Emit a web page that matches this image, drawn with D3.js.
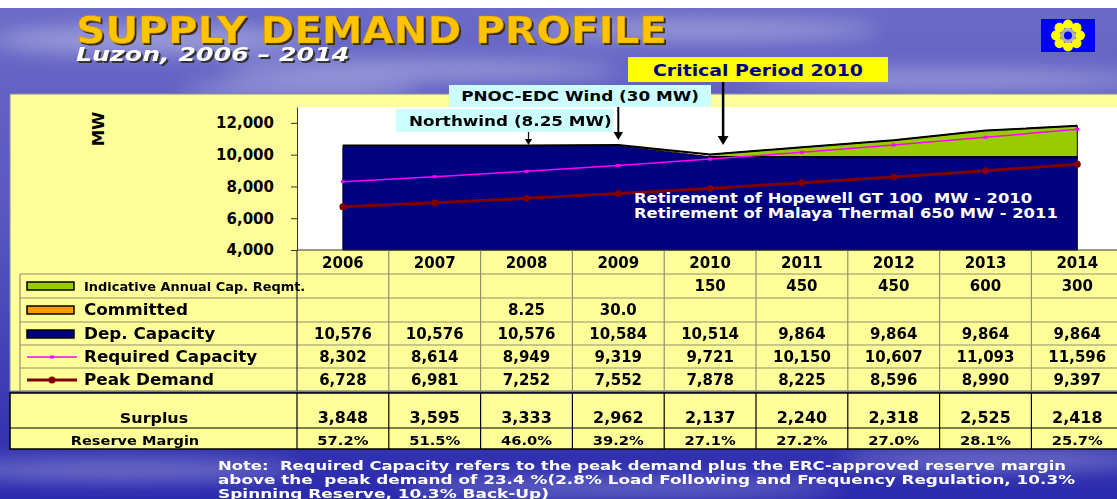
<!DOCTYPE html>
<html>
<head>
<meta charset="utf-8">
<script src="https://cdn.jsdelivr.net/npm/d3@7"></script>
<style>
  body { margin: 0; overflow: hidden; background: #fff; }
  text { font-family: "DejaVu Sans", Verdana, sans-serif; font-weight: bold; }
</style>
</head>
<body>
<svg id="chart" width="1117" height="499"></svg>
<script>
'use strict';

// Data (MW)
var years = ["2006", "2007", "2008", "2009", "2010", "2011", "2012", "2013", "2014"];
var indicative = [null, null, null, null, 150, 450, 450, 600, 300];
var committed = [null, null, 8.25, 30.0, null, null, null, null, null];
var depCapacity = [10576, 10576, 10576, 10584, 10514, 9864, 9864, 9864, 9864];
// dependable capacity as drawn in the area chart (dips to 9,864 in 2010)
var depCapacityPlotted = [10576, 10576, 10576, 10584, 9864, 9864, 9864, 9864, 9864];
var requiredCapacity = [8302, 8614, 8949, 9319, 9721, 10150, 10607, 11093, 11596];
var peakDemand = [6728, 6981, 7252, 7552, 7878, 8225, 8596, 8990, 9397];
var surplus = [3848, 3595, 3333, 2962, 2137, 2240, 2318, 2525, 2418];
var reserveMargin = [57.2, 51.5, 46.0, 39.2, 27.1, 27.2, 27.0, 28.1, 25.7];
var yTicks = [4000, 6000, 8000, 10000, 12000];

var svg = d3.select("#chart");
var defs = svg.append("defs");

// Slide background
var bg = defs.append("linearGradient").attr("id", "bg")
    .attr("x1", 0).attr("y1", 0).attr("x2", 0).attr("y2", 1);
bg.append("stop").attr("offset", "0%").attr("stop-color", "#6a6ac8");
bg.append("stop").attr("offset", "45%").attr("stop-color", "#5656bd");
bg.append("stop").attr("offset", "100%").attr("stop-color", "#2a2aae");
defs.append("filter").attr("id", "blur")
    .attr("x", "-50%").attr("y", "-50%").attr("width", "200%").attr("height", "200%")
  .append("feGaussianBlur").attr("stdDeviation", 10);

svg.append("rect").attr("x", 0).attr("y", 8).attr("width", 1117).attr("height", 491)
    .attr("fill", "url(#bg)");

var clouds = [[150, 40, 160, 14], [420, 70, 200, 10], [700, 30, 180, 10], [950, 80, 200, 10],
              [120, 470, 180, 10], [620, 488, 220, 8], [1000, 460, 160, 9], [300, 90, 120, 8]];
svg.append("g").attr("filter", "url(#blur)")
  .selectAll("ellipse").data(clouds).enter().append("ellipse")
    .attr("cx", function(d) { return d[0]; })
    .attr("cy", function(d) { return d[1]; })
    .attr("rx", function(d) { return d[2]; })
    .attr("ry", function(d) { return d[3]; })
    .attr("fill", "#ffffff")
    .attr("opacity", 0.35);

// text helper, with a horizontal stretch like the slide
function label(g, x, y, str, size, sx, anchor, fill) {
    return g.append("text")
        .attr("transform", "translate(" + x + "," + y + ") scale(" + sx + ",1)")
        .attr("text-anchor", anchor || "start")
        .attr("font-size", size)
        .attr("fill", fill || "#000")
        .style("white-space", "pre")
        .text(str);
}

// Title
svg.append("text").attr("x", 78).attr("y", 45).attr("font-size", 37)
    .attr("textLength", 591).attr("lengthAdjust", "spacingAndGlyphs")
    .attr("fill", "#3a2a10").text("SUPPLY DEMAND PROFILE");
svg.append("text").attr("x", 76).attr("y", 43).attr("font-size", 37)
    .attr("textLength", 591).attr("lengthAdjust", "spacingAndGlyphs")
    .attr("fill", "#ffc400").attr("stroke", "#c89000").attr("stroke-width", 0.6)
    .text("SUPPLY DEMAND PROFILE");
label(svg, 78, 63, "Luzon, 2006 \u2013 2014", 19, 1.33, "start", "#333")
    .style("font-style", "italic");
label(svg, 76, 61, "Luzon, 2006 \u2013 2014", 19, 1.33, "start", "#fff")
    .style("font-style", "italic");

// Logo
var logo = svg.append("g").attr("transform", "translate(1068,35.5)");
logo.append("rect").attr("x", -27).attr("y", -16.5).attr("width", 54).attr("height", 33).attr("fill", "#0000ff");
logo.selectAll("circle.petal").data(d3.range(8)).enter().append("circle")
    .attr("class", "petal")
    .attr("cx", function(d) { return 12 * Math.cos(d * Math.PI / 4); })
    .attr("cy", function(d) { return 11 * Math.sin(d * Math.PI / 4); })
    .attr("r", 5).attr("fill", "#ffff00");
logo.append("circle").attr("r", 7.5).attr("fill", "#b0b0b0");
logo.append("circle").attr("r", 4).attr("fill", "#0000ff");

// Yellow panel and plot area
var panel = svg.append("g");
panel.append("rect").attr("x", 10).attr("y", 94).attr("width", 1110).attr("height", 297)
    .attr("fill", "#ffff99").attr("stroke", "#8c8c8c").attr("stroke-width", 1);
panel.append("rect").attr("x", 297).attr("y", 107).attr("width", 823).attr("height", 143)
    .attr("fill", "#fff");

// Scales
var x = d3.scaleBand().domain(years).range([297, 297 + 9 * 91.8]);
function cx(yr) { return x(yr) + x.bandwidth() / 2; }
var y = d3.scaleLinear().domain([4000, 13000]).range([250, 107]);

// Stacked areas
var withCommitted = depCapacityPlotted.map(function(v, i) { return v + (committed[i] || 0); });
var cumIndicative = d3.cumsum(indicative, function(v) { return v || 0; });
var total = withCommitted.map(function(v, i) { return v + cumIndicative[i]; });

var chart = svg.append("g");
chart.append("path")
    .attr("d", d3.area()
        .x(function(d, i) { return cx(years[i]); })
        .y0(y(4000))
        .y1(function(d) { return y(d); })(depCapacityPlotted))
    .attr("fill", "#000080").attr("stroke", "#000").attr("stroke-width", 1);

chart.append("path")
    .attr("d", d3.area()
        .defined(function(d, i) { return i >= 2 && i <= 4; })
        .x(function(d, i) { return cx(years[i]); })
        .y0(function(d, i) { return y(depCapacityPlotted[i]); })
        .y1(function(d) { return y(d); })(withCommitted))
    .attr("fill", "#ff9900");

chart.append("path")
    .attr("d", d3.area()
        .defined(function(d, i) { return i >= 4; })
        .x(function(d, i) { return cx(years[i]); })
        .y0(function(d, i) { return y(withCommitted[i]); })
        .y1(function(d) { return y(d); })(total))
    .attr("fill", "#99cc00").attr("stroke", "#000").attr("stroke-width", 1);

chart.append("path")
    .attr("d", d3.line()
        .x(function(d, i) { return cx(years[i]); })
        .y(function(d) { return y(d); })(total))
    .attr("fill", "none").attr("stroke", "#000").attr("stroke-width", 2);
chart.append("path")
    .attr("d", d3.line()
        .defined(function(d, i) { return i >= 4; })
        .x(function(d, i) { return cx(years[i]); })
        .y(function(d) { return y(d); })(depCapacityPlotted))
    .attr("fill", "none").attr("stroke", "#000").attr("stroke-width", 1.5);

// Required capacity line
chart.append("path")
    .attr("d", d3.line()
        .x(function(d, i) { return cx(years[i]); })
        .y(function(d) { return y(d); })(requiredCapacity))
    .attr("fill", "none").attr("stroke", "#ff00ff").attr("stroke-width", 1.5);
chart.selectAll("rect.req").data(requiredCapacity).enter().append("rect")
    .attr("class", "req")
    .attr("x", function(d, i) { return cx(years[i]) - 2; })
    .attr("y", function(d) { return y(d) - 1.5; })
    .attr("width", 4).attr("height", 3).attr("fill", "#ff00ff");

// Peak demand line
chart.append("path")
    .attr("d", d3.line()
        .x(function(d, i) { return cx(years[i]); })
        .y(function(d) { return y(d); })(peakDemand))
    .attr("fill", "none").attr("stroke", "#800000").attr("stroke-width", 3);
chart.selectAll("circle.peak").data(peakDemand).enter().append("circle")
    .attr("class", "peak")
    .attr("cx", function(d, i) { return cx(years[i]); })
    .attr("cy", function(d) { return y(d); })
    .attr("r", 3.5).attr("fill", "#800000");

// Retirement note inside the chart
label(chart, 634, 203, "Retirement of Hopewell GT 100  MW - 2010", 14, 1.17, "start", "#fff");
label(chart, 634, 218, "Retirement of Malaya Thermal 650 MW - 2011", 14, 1.17, "start", "#fff");

// Y axis
var yAxis = d3.axisLeft(y).tickValues(yTicks).tickFormat(d3.format(","))
    .tickSize(6).tickSizeOuter(0).tickPadding(17);
var ax = svg.append("g").attr("transform", "translate(297,0)").call(yAxis);
ax.select(".domain").attr("stroke", "#333");
ax.selectAll(".tick line").attr("stroke", "#333");
ax.selectAll("text").attr("font-size", 15).attr("fill", "#000")
    .style("font-family", "DejaVu Sans").style("font-weight", "bold");
svg.append("text")
    .attr("transform", "translate(104,129) rotate(-90) scale(1.1,1)")
    .attr("text-anchor", "middle").attr("font-size", 15).text("MW");

// Annotations
function arrow(g, x0, y0, y1, w, head) {
    g.append("line").attr("x1", x0).attr("x2", x0).attr("y1", y0).attr("y2", y1 - head)
        .attr("stroke", "#000").attr("stroke-width", w);
    g.append("path")
        .attr("d", "M" + (x0 - head * 0.6) + "," + (y1 - head) + "L" + (x0 + head * 0.6) + "," + (y1 - head) + "L" + x0 + "," + y1 + "Z")
        .attr("fill", "#000");
}
var notes = svg.append("g");
notes.append("rect").attr("x", 628).attr("y", 57).attr("width", 260).attr("height", 25).attr("fill", "#ffff00");
label(notes, 758, 76, "Critical Period 2010", 16, 1.18, "middle", "#000080");
arrow(notes, cx("2010") + 13, 82, 145, 2.5, 9);

notes.append("rect").attr("x", 449).attr("y", 85).attr("width", 262).attr("height", 22).attr("fill", "#ccffff");
label(notes, 580, 101, "PNOC-EDC Wind (30 MW)", 14, 1.2, "middle", "#000");
arrow(notes, cx("2009"), 107, 140, 2, 8);

notes.append("rect").attr("x", 396).attr("y", 109).attr("width", 217).attr("height", 23).attr("fill", "#ccffff");
label(notes, 409, 126, "Northwind (8.25 MW)", 14, 1.2, "start", "#000");
arrow(notes, cx("2008") + 2, 132, 145, 1.2, 6);

// Data table
var table = svg.append("g");
var gridColor = "#8f8f70";
var rowLines = [274, 298, 322, 345, 368, 391];
table.selectAll("line.row").data(rowLines).enter().append("line")
    .attr("x1", 20).attr("x2", 1117)
    .attr("y1", function(d) { return d; }).attr("y2", function(d) { return d; })
    .attr("stroke", gridColor).attr("stroke-width", 1.2);
table.append("line").attr("x1", 20).attr("x2", 20).attr("y1", 274).attr("y2", 391)
    .attr("stroke", gridColor).attr("stroke-width", 1.2);
table.selectAll("line.col").data(years).enter().append("line")
    .attr("x1", function(d) { return x(d); }).attr("x2", function(d) { return x(d); })
    .attr("y1", 250).attr("y2", 391)
    .attr("stroke", function(d, i) { return i === 0 ? "#333" : gridColor; })
    .attr("stroke-width", 1.2);
table.append("line").attr("x1", 297).attr("x2", 1117).attr("y1", 250).attr("y2", 250)
    .attr("stroke", "#333").attr("stroke-width", 1);

years.forEach(function(yr) { label(table, cx(yr), 268, yr, 15, 1.0, "middle"); });

function fmtNum(v) { return v == null ? "" : d3.format(",")(v); }
function fmtCommitted(v) { return v == null ? "" : (Number.isInteger(v) ? v.toFixed(1) : String(v)); }
var rows = [
    { name: "Indicative Annual Cap. Reqmt.", size: 12, sx: 1.08, y: 291, values: indicative.map(fmtNum), key: "ind" },
    { name: "Committed", size: 15, sx: 1.12, y: 315, values: committed.map(fmtCommitted), key: "com" },
    { name: "Dep. Capacity", size: 15, sx: 1.12, y: 339, values: depCapacity.map(fmtNum), key: "dep" },
    { name: "Required Capacity", size: 15, sx: 1.12, y: 362, values: requiredCapacity.map(fmtNum), key: "req" },
    { name: "Peak Demand", size: 15, sx: 1.12, y: 385, values: peakDemand.map(fmtNum), key: "peak" }
];
rows.forEach(function(r) {
    label(table, 84, r.y, r.name, r.size, r.sx, "start");
    r.values.forEach(function(v, i) { label(table, cx(years[i]), r.y, v, 15, 1.0, "middle"); });
    var my = r.y - 5;
    if (r.key === "ind" || r.key === "com" || r.key === "dep") {
        var fill = { ind: "#99cc00", com: "#ff9900", dep: "#000080" }[r.key];
        table.append("rect").attr("x", 27).attr("y", my - 4).attr("width", 47).attr("height", 8)
            .attr("fill", fill).attr("stroke", "#000").attr("stroke-width", 1.5);
    } else if (r.key === "req") {
        table.append("line").attr("x1", 27).attr("x2", 77).attr("y1", my).attr("y2", my)
            .attr("stroke", "#ff00ff").attr("stroke-width", 1.5);
        table.append("rect").attr("x", 50).attr("y", my - 1.5).attr("width", 4).attr("height", 3).attr("fill", "#ff00ff");
    } else {
        table.append("line").attr("x1", 27).attr("x2", 77).attr("y1", my).attr("y2", my)
            .attr("stroke", "#800000").attr("stroke-width", 3);
        table.append("circle").attr("cx", 52).attr("cy", my).attr("r", 3.5).attr("fill", "#800000");
    }
});

// Surplus / reserve margin table
var lower = svg.append("g");
lower.append("rect").attr("x", 10).attr("y", 393).attr("width", 1110).attr("height", 56)
    .attr("fill", "#ffff99").attr("stroke", "#000").attr("stroke-width", 1.5);
lower.append("line").attr("x1", 10).attr("x2", 1117).attr("y1", 428).attr("y2", 428)
    .attr("stroke", "#000").attr("stroke-width", 1.2);
lower.selectAll("line.col").data(years).enter().append("line")
    .attr("x1", function(d) { return x(d); }).attr("x2", function(d) { return x(d); })
    .attr("y1", 393).attr("y2", 449)
    .attr("stroke", "#000").attr("stroke-width", 1.2);
label(lower, 154, 423, "Surplus", 14.5, 1.1, "middle");
label(lower, 135, 445, "Reserve Margin", 13, 1.12, "middle");
surplus.forEach(function(v, i) { label(lower, cx(years[i]), 423, d3.format(",")(v), 15.5, 1.03, "middle"); });
reserveMargin.forEach(function(v, i) { label(lower, cx(years[i]), 445, v.toFixed(1) + "%", 12.5, 1.18, "middle"); });

// Footnote
var noteLines = [
    "Note:  Required Capacity refers to the peak demand plus the ERC-approved reserve margin",
    "above the  peak demand of 23.4 %(2.8% Load Following and Frequency Regulation, 10.3%",
    "Spinning Reserve, 10.3% Back-Up)"
];
var noteWidths = [848, 857, 331];
noteLines.forEach(function(s, i) {
    svg.append("text").attr("x", 218).attr("y", 470 + i * 14).attr("font-size", 13)
        .attr("fill", "#fff").attr("textLength", noteWidths[i]).attr("lengthAdjust", "spacingAndGlyphs")
        .style("white-space", "pre").text(s);
});
</script>
</body>
</html>
